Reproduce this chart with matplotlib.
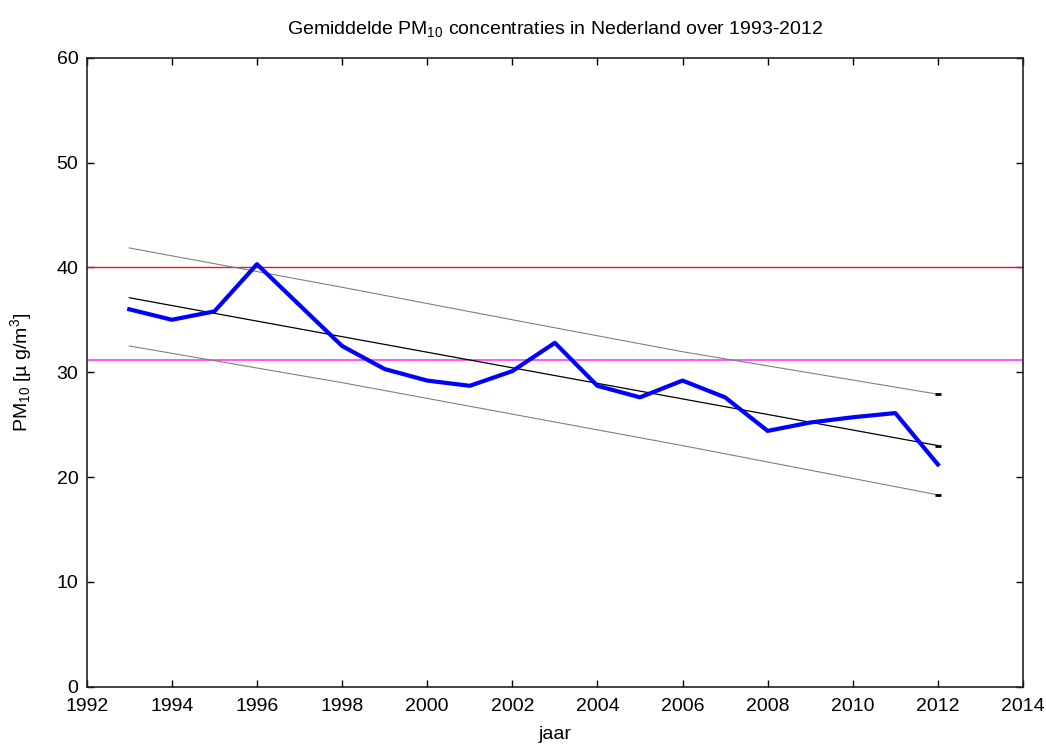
import matplotlib
matplotlib.use("Agg")
import matplotlib.pyplot as plt

plt.rcParams['font.family'] = ['Liberation Sans', 'DejaVu Sans']
plt.rcParams['mathtext.fontset'] = 'custom'
plt.rcParams['mathtext.rm'] = 'Liberation Sans'
plt.rcParams['mathtext.it'] = 'Liberation Sans:italic'

# yearly mean PM10
years = [1993, 1994, 1995, 1996, 1997, 1998, 1999, 2000, 2001, 2002,
         2003, 2004, 2005, 2006, 2007, 2008, 2009, 2010, 2011, 2012]
pm10 = [36.0, 35.0, 35.8, 40.3, 36.4, 32.5, 30.3, 29.2, 28.7, 30.1,
        32.8, 28.7, 27.6, 29.2, 27.6, 24.4, 25.2, 25.7, 26.1, 21.2]

# linear trend and band
trend_years = [1993, 2012]
trend = [37.1, 23.0]
band_years = [1993, 1998, 2002, 2006, 2012]
band_upper = [41.85, 38.1, 35.0, 31.95, 27.9]
band_lower = [32.5, 29.0, 26.0, 23.0, 18.3]

limit_value = 40.0
mean_value = 31.2

fig = plt.figure(figsize=(10.46, 7.44), dpi=100)
ax = fig.add_axes([0.0829, 0.077, 0.8951, 0.8455])

ax.axhline(limit_value, color='#e8191c', lw=1.0, zorder=2)
ax.axhline(mean_value, color='#ff55ff', lw=1.4, zorder=2)
ax.plot(band_years, band_upper, color='#808080', lw=0.8, zorder=3)
ax.plot(band_years, band_lower, color='#808080', lw=0.8, zorder=3)
ax.plot(trend_years, trend, color='black', lw=0.9, zorder=3)
# little end marks at 2012
ax.plot([band_years[-1]] * 3, [band_upper[-1], trend[-1], band_lower[-1]],
        ls='none', marker='_', ms=4, mew=2, color='black', zorder=4)
ax.plot(years, pm10, color='#0000ff', lw=3.0, zorder=5)

ax.set_xlim(1992, 2014)
ax.set_ylim(0, 60)
ax.set_xticks(range(1992, 2015, 2))
ax.set_yticks(range(0, 61, 10))
ax.tick_params(direction='in', top=True, right=True, length=5, width=1,
               labelsize=14)
ax.tick_params(axis='x', pad=8)
ax.tick_params(axis='y', pad=6)
for s in ax.spines.values():
    s.set_linewidth(1.2)
    s.set_color('#222222')

ax.set_title('Gemiddelde PM$_{10}$ concentraties in Nederland over 1993-2012',
             fontsize=14, pad=17)
ax.set_xlabel('jaar', fontsize=14, labelpad=8)
ax.set_ylabel('PM$_{10}$ [µ g/m$^3$]', fontsize=14, labelpad=16)

fig.savefig('out.png', dpi=100)
